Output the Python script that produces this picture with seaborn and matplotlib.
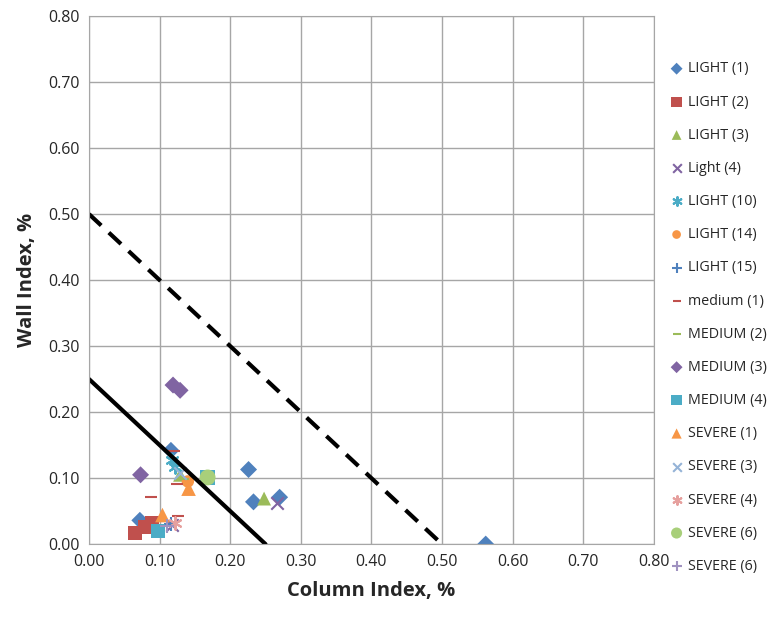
import matplotlib
matplotlib.use("Agg")
import matplotlib.pyplot as plt
import seaborn as sns
import pandas as pd

# series (Column Index %, Wall Index %)
names = ["LIGHT (1)", "LIGHT (2)", "LIGHT (3)", "Light (4)", "LIGHT (10)", "LIGHT (14)",
         "LIGHT (15)", "medium (1)", "MEDIUM (2)", "MEDIUM (3)", "MEDIUM (4)",
         "SEVERE (1)", "SEVERE (3)", "SEVERE (4)", "SEVERE (6)", "SEVERE (6)"]
xs = [
    [0.116, 0.226, 0.233, 0.270, 0.072, 0.562],
    [0.065, 0.079, 0.089],
    [0.248, 0.129],
    [0.266, 0.118],
    [0.117, 0.122],
    [0.140],
    [0.116],
    [0.121, 0.088, 0.124, 0.126],
    [0.133],
    [0.119, 0.129, 0.073],
    [0.098, 0.168],
    [0.104, 0.141],
    [0.129],
    [0.122],
    [0.168],
    [0.110],
]
ys = [
    [0.142, 0.113, 0.064, 0.071, 0.036, 0.000],
    [0.017, 0.026, 0.031],
    [0.069, 0.105],
    [0.062, 0.029],
    [0.127, 0.117],
    [0.095],
    [0.030],
    [0.141, 0.071, 0.091, 0.042],
    [0.098],
    [0.241, 0.233, 0.105],
    [0.020, 0.101],
    [0.044, 0.084],
    [0.107],
    [0.032],
    [0.101],
    [0.028],
]
markers = ["D", "s", "^", "x", (6, 2, 0), "o", "+", "_", "_", "D", "s", "^", "x", (6, 2, 0), "o", "+"]
colors = ["#4F81BD", "#C0504D", "#9BBB59", "#8064A2", "#4BACC6", "#F79646", "#4F81BD",
          "#C0504D", "#9BBB59", "#8064A2", "#4BACC6", "#F79646", "#95B3D7", "#E6A09E",
          "#A8CF7A", "#A092C0"]
sizes = [75, 110, 100, 80, 80, 80, 90, 70, 70, 75, 110, 110, 80, 80, 130, 90]

# limit lines
solid_x = [0.0, 0.25]
solid_y = [0.25, 0.0]
dash_x = [0.0, 0.5]
dash_y = [0.5, 0.0]

sns.set_style("white")
plt.rcParams["font.family"] = ["Open Sans", "DejaVu Sans"]

fig = plt.figure(figsize=(7.81, 6.19), dpi=100)
ax = fig.add_axes([0.114, 0.121, 0.723, 0.853])

sns.lineplot(x=solid_x, y=solid_y, color="black", lw=3, ax=ax)
ax.plot(dash_x, dash_y, color="black", lw=3, ls=(0, (4, 2.5)))

for n, x, y, m, c, s in zip(names, xs, ys, markers, colors, sizes):
    df = pd.DataFrame({"x": x, "y": y})
    lw = 1.5 if m in ["x", "+", "_", (6, 2, 0)] else 0
    sns.scatterplot(data=df, x="x", y="y", marker=m, color=c, s=s, label=n,
                    edgecolor=c if lw else "none", linewidth=lw if lw else 0, ax=ax)

ax.set_xlim(0, 0.8)
ax.set_ylim(0, 0.8)
ax.set_xticks([i / 10 for i in range(9)])
ax.set_yticks([i / 10 for i in range(9)])
ax.set_xticklabels(["%.2f" % (i / 10) for i in range(9)], fontsize=11.5)
ax.set_yticklabels(["%.2f" % (i / 10) for i in range(9)], fontsize=11.5)
ax.grid(True, color="#A6A6A6", lw=1)
for sp in ax.spines.values():
    sp.set_color("#A6A6A6")
ax.set_axisbelow(True)
ax.set_xlabel("Column Index, %", fontsize=14.5, fontweight="bold", labelpad=8)
ax.set_ylabel("Wall Index, %", fontsize=14.5, fontweight="bold", labelpad=8)

h, l = ax.get_legend_handles_labels()
ax.legend_.remove()
fig.legend(h, l, loc="upper left", bbox_to_anchor=(0.848, 0.91), frameon=False,
           fontsize=10.3, labelspacing=1.27, handletextpad=0.2, handlelength=1.2,
           markerscale=0.7, borderaxespad=0)

fig.savefig("out.png", dpi=100)
